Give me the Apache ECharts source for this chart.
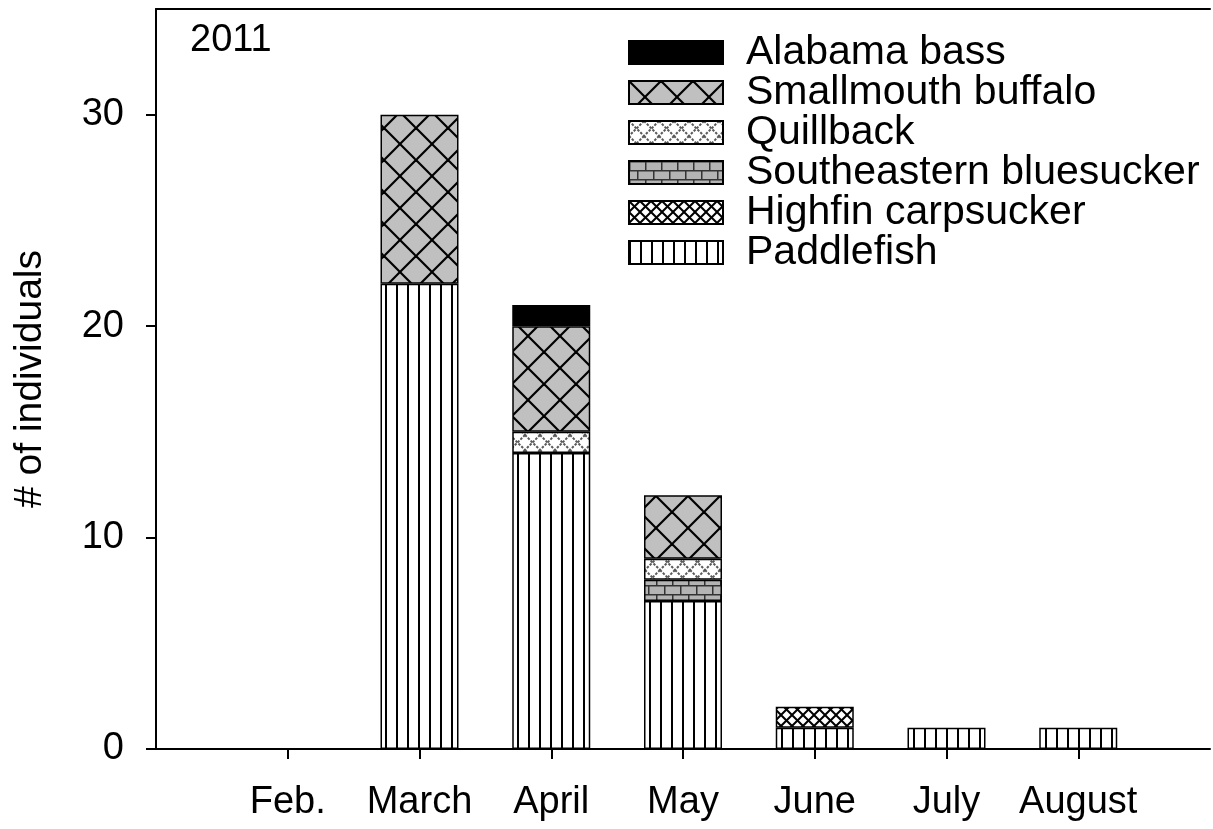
<!DOCTYPE html>
<html>
<head>
<meta charset="utf-8">
<script src="https://cdn.jsdelivr.net/npm/echarts@6/dist/echarts.min.js"></script>
<style>html,body{margin:0;padding:0;background:#fff}#chart{width:1213px;height:829px}</style>
</head>
<body>
<div id="chart"></div>
<script>
// ---- data ----
var categories = ['', 'Feb.', 'March', 'April', 'May', 'June', 'July', 'August', ''];
var paddlefish  = [null, null, 22, 14, 7, 1, 1, 1, null];
var highfin     = [null, null, null, null, null, 1, null, null, null];
var bluesucker  = [null, null, null, null, 1, null, null, null, null];
var quillback   = [null, null, null, 1, 1, null, null, null, null];
var smallmouth  = [null, null, 8, 5, 3, null, null, null, null];
var alabama     = [null, null, null, 1, null, null, null, null, null];
var yTicks = [0, 10, 20, 30];
var legendOrder = ['Alabama bass', 'Smallmouth buffalo', 'Quillback', 'Southeastern bluesucker', 'Highfin carpsucker', 'Paddlefish'];

// ---- patterns ----
function makeCanvas(w, h, draw) {
  var c = document.createElement('canvas');
  c.width = w; c.height = h;
  var ctx = c.getContext('2d');
  draw(ctx, w, h);
  return c;
}
function diag(ctx, w, h) {
  var offs = [-w, 0, w];
  for (var i = 0; i < offs.length; i++) {
    var o = offs[i];
    ctx.beginPath(); ctx.moveTo(o, 0); ctx.lineTo(o + w, h); ctx.stroke();
    ctx.beginPath(); ctx.moveTo(o + w, 0); ctx.lineTo(o, h); ctx.stroke();
  }
}
var pPaddle = makeCanvas(11, 11, function (ctx, w, h) {
  ctx.fillStyle = '#fff'; ctx.fillRect(0, 0, w, h);
  ctx.fillStyle = '#000'; ctx.fillRect(0, 0, 2, h);
});
var pSmall = makeCanvas(32, 32, function (ctx, w, h) {
  ctx.fillStyle = '#c0c0c0'; ctx.fillRect(0, 0, w, h);
  ctx.strokeStyle = '#000'; ctx.lineWidth = 2.2; diag(ctx, w, h);
});
var pQuill = makeCanvas(15, 15, function (ctx, w, h) {
  ctx.fillStyle = '#fff'; ctx.fillRect(0, 0, w, h);
  ctx.strokeStyle = '#5a5a5a'; ctx.lineWidth = 2; ctx.setLineDash([2.5, 1.5]); diag(ctx, w, h);
});
var pBlue = makeCanvas(32, 18, function (ctx, w, h) {
  ctx.fillStyle = '#b4b4b4'; ctx.fillRect(0, 0, w, h);
  ctx.strokeStyle = '#333'; ctx.lineWidth = 1.5;
  ctx.beginPath(); ctx.moveTo(0, 0.75); ctx.lineTo(w, 0.75); ctx.stroke();
  ctx.beginPath(); ctx.moveTo(0, 9.75); ctx.lineTo(w, 9.75); ctx.stroke();
  [0.75, 16.75].forEach(function (x) { ctx.beginPath(); ctx.moveTo(x, 0); ctx.lineTo(x, 9); ctx.stroke(); });
  [8.75, 24.75].forEach(function (x) { ctx.beginPath(); ctx.moveTo(x, 9); ctx.lineTo(x, h); ctx.stroke(); });
});
var pHigh = makeCanvas(11, 11, function (ctx, w, h) {
  ctx.fillStyle = '#fff'; ctx.fillRect(0, 0, w, h);
  ctx.strokeStyle = '#000'; ctx.lineWidth = 2; diag(ctx, w, h);
});
function pat(c) { return { image: c, repeat: 'repeat' }; }

var FONT = 'Liberation Sans, Arial, sans-serif';
function barSeries(name, data, color) {
  return {
    name: name, type: 'bar', stack: 'all', data: data, barWidth: 78,
    itemStyle: { color: color, borderColor: '#000', borderWidth: 1.5 },
    emphasis: { disabled: true }
  };
}

var chart = echarts.init(document.getElementById('chart'), null, { renderer: 'canvas' });
chart.setOption({
  animation: false,
  backgroundColor: '#fff',
  textStyle: { fontFamily: FONT },
  grid: { left: 156, right: 0, top: 9, bottom: 80, containLabel: false },
  legend: {
    data: legendOrder,
    orient: 'vertical',
    left: 628, top: 32, padding: 0,
    icon: 'rect',
    itemWidth: 94, itemHeight: 23, itemGap: -1,
    selectedMode: false,
    textStyle: { fontFamily: FONT, fontSize: 41, color: '#000', lineHeight: 39, padding: [0, 0, 0, 18] }
  },
  graphic: [{
    type: 'text', left: 190, top: 22,
    style: { text: '2011', font: '38px ' + FONT, fill: '#000' }
  }],
  xAxis: [{
    type: 'category', data: categories, boundaryGap: false,
    axisLine: { lineStyle: { color: '#000', width: 2 } },
    axisTick: { show: true, length: 10, lineStyle: { color: '#000', width: 2 },
      interval: function (i) { return i > 0 && i < categories.length - 1; } },
    axisLabel: { color: '#000', fontSize: 38, fontFamily: FONT, margin: 35, interval: 0 },
    splitLine: { show: false }
  }, {
    type: 'category', data: categories, boundaryGap: false, position: 'top',
    axisLine: { show: true, lineStyle: { color: '#000', width: 2 } },
    axisTick: { show: false }, axisLabel: { show: false }, splitLine: { show: false }
  }],
  yAxis: {
    type: 'value', min: 0, max: 35, interval: 10,
    name: '# of individuals', nameLocation: 'middle', nameGap: 106, nameRotate: 90,
    nameTextStyle: { fontSize: 39, fontFamily: FONT, color: '#000' },
    axisLine: { show: true, lineStyle: { color: '#000', width: 2 } },
    axisTick: { show: true, length: 10, lineStyle: { color: '#000', width: 2 }, customValues: yTicks },
    axisLabel: { color: '#000', fontSize: 38, fontFamily: FONT, margin: 32, customValues: yTicks },
    splitLine: { show: false }
  },
  series: [
    barSeries('Paddlefish', paddlefish, pat(pPaddle)),
    barSeries('Highfin carpsucker', highfin, pat(pHigh)),
    barSeries('Southeastern bluesucker', bluesucker, pat(pBlue)),
    barSeries('Quillback', quillback, pat(pQuill)),
    barSeries('Smallmouth buffalo', smallmouth, pat(pSmall)),
    barSeries('Alabama bass', alabama, '#000')
  ]
});
</script>
</body>
</html>
